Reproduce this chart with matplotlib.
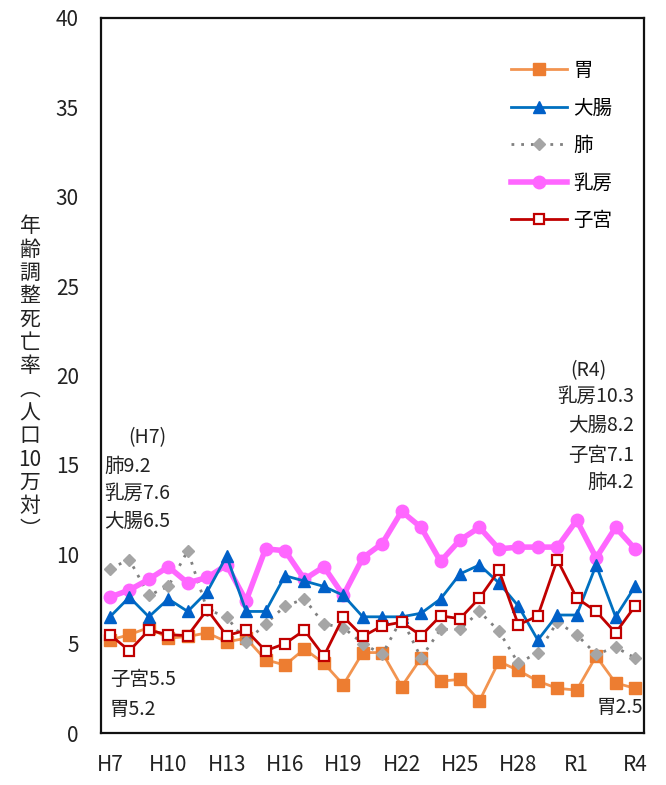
import matplotlib
matplotlib.use('Agg')
import matplotlib.pyplot as plt

plt.rcParams['font.family'] = ['Noto Sans CJK JP', 'DejaVu Sans']

# data (H7 .. R4)
years = ['H7', 'H8', 'H9', 'H10', 'H11', 'H12', 'H13', 'H14', 'H15', 'H16',
         'H17', 'H18', 'H19', 'H20', 'H21', 'H22', 'H23', 'H24', 'H25', 'H26',
         'H27', 'H28', 'H29', 'H30', 'R1', 'R2', 'R3', 'R4']
tick_labels = ['H7', 'H10', 'H13', 'H16', 'H19', 'H22', 'H25', 'H28', 'R1', 'R4']

stomach = [5.2, 5.5, 5.9, 5.3, 5.4, 5.6, 5.1, 5.3, 4.1, 3.8, 4.7, 3.9, 2.7, 4.5,
           4.5, 2.6, 4.2, 2.9, 3.0, 1.8, 4.0, 3.5, 2.9, 2.5, 2.4, 4.3, 2.8, 2.5]
colon = [6.5, 7.6, 6.5, 7.5, 6.8, 7.9, 9.9, 6.8, 6.8, 8.8, 8.5, 8.2, 7.7, 6.5,
         6.5, 6.5, 6.7, 7.5, 8.9, 9.4, 8.4, 7.1, 5.2, 6.6, 6.6, 9.4, 6.5, 8.2]
lung = [9.2, 9.7, 7.7, 8.2, 10.2, 6.9, 6.5, 5.1, 6.1, 7.1, 7.5, 6.1, 5.9, 5.0,
        4.4, 6.4, 4.2, 5.8, 5.8, 6.8, 5.7, 3.9, 4.5, 6.2, 5.5, 4.4, 4.8, 4.2]
breast = [7.6, 8.0, 8.6, 9.3, 8.4, 8.7, 9.4, 7.4, 10.3, 10.2, 8.6, 9.3, 7.7, 9.8,
          10.6, 12.4, 11.5, 9.6, 10.8, 11.5, 10.3, 10.4, 10.4, 10.4, 11.9, 9.8, 11.5, 10.3]
uterus = [5.5, 4.6, 5.75, 5.5, 5.45, 6.9, 5.45, 5.75, 4.6, 5.0, 5.75, 4.3, 6.5, 5.4,
          6.0, 6.2, 5.45, 6.55, 6.4, 7.55, 9.1, 6.05, 6.55, 9.7, 7.55, 6.8, 5.6, 7.1]

x = list(range(len(years)))

fig = plt.figure(figsize=(6.66, 7.85), dpi=100)
ax = fig.add_axes([101 / 666, 1 - 733 / 785, 543 / 666, 715 / 785])

l_st, = ax.plot(x, stomach, color='#F29450', lw=2, marker='s', ms=8,
                mfc='#ED7D31', mec='#ED7D31', label='胃', zorder=2)
l_lu, = ax.plot(x, lung, color='#808080', lw=2, ls=(0, (1, 2.5)), marker='D', ms=6,
                mfc='#A5A5A5', mec='#A5A5A5', label='肺', zorder=3)
l_br, = ax.plot(x, breast, color='#FF66FF', lw=4, marker='o', ms=9,
                mfc='#FF66FF', mec='#FF66FF', label='乳房', zorder=4)
l_co, = ax.plot(x, colon, color='#0070C0', lw=2, marker='^', ms=8,
                mfc='#0060C8', mec='#0060C8', label='大腸', zorder=5)
l_ut, = ax.plot(x, uterus, color='#C00000', lw=2, marker='s', ms=7,
                mfc='white', mec='#C00000', mew=1.6, label='子宮', zorder=6)

ax.set_xlim(-0.46, 27.46)
ax.set_ylim(0, 40)
ax.set_yticks(range(0, 41, 5))
ax.set_xticks([years.index(t) for t in tick_labels])
ax.set_xticklabels(tick_labels)
ax.tick_params(axis='y', length=0, pad=16, labelsize=15, labelcolor='#222222')
ax.tick_params(axis='x', length=0, pad=15, labelsize=15, labelcolor='#222222')
for s in ax.spines.values():
    s.set_color('#111111')
    s.set_linewidth(1.6)

ax.legend(handles=[l_st, l_co, l_lu, l_br, l_ut], loc='upper left',
          bbox_to_anchor=(511 / 666, 1 - 60 / 785), bbox_transform=fig.transFigure,
          frameon=False, fontsize=14, handlelength=2.9, handletextpad=0.3,
          labelspacing=0.85, borderpad=0, borderaxespad=0)

# y label, vertical writing
ylab = '\n'.join(['年', '齢', '調', '整', '死', '亡', '率', '︵', '人', '口', '10', '万', '対', '︶'])
fig.text(30 / 666, 1 - 378 / 785, ylab, ha='center', va='center', fontsize=15,
         linespacing=1.08, color='#222222')

# annotations
txt = dict(fontsize=14, color='#222222')
ax.text(1.9, 16.5, '(H7)', ha='center', va='center', **txt)
ax.text(-0.31, 14.9, f'肺{lung[0]}', ha='left', va='center', **txt)
ax.text(-0.31, 13.4, f'乳房{breast[0]}', ha='left', va='center', **txt)
ax.text(-0.31, 11.85, f'大腸{colon[0]}', ha='left', va='center', **txt)
ax.text(0.0, 3.0, f'子宮{uterus[0]}', ha='left', va='center', **txt)
ax.text(0.0, 1.3, f'胃{stomach[0]}', ha='left', va='center', **txt)

ax.text(24.6, 20.3, '(R4)', ha='center', va='center', **txt)
ax.text(26.95, 18.8, f'乳房{breast[-1]}', ha='right', va='center', **txt)
ax.text(26.95, 17.2, f'大腸{colon[-1]}', ha='right', va='center', **txt)
ax.text(26.95, 15.5, f'子宮{uterus[-1]}', ha='right', va='center', **txt)
ax.text(26.95, 14.0, f'肺{lung[-1]}', ha='right', va='center', **txt)
ax.text(27.4, 1.4, f'胃{stomach[-1]}', ha='right', va='center', **txt)

fig.savefig('out.png', dpi=100)
